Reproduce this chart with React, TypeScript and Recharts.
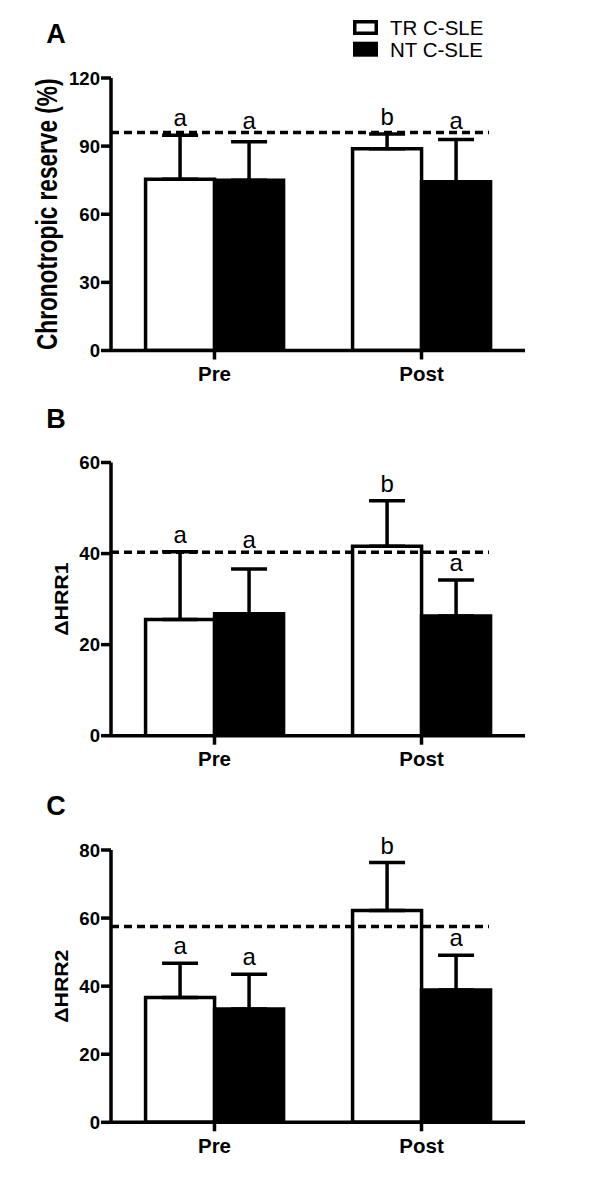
import React from "react";
import { Bar, BarChart, ErrorBar, ReferenceLine, XAxis, YAxis } from "recharts";

const groups = ["Pre", "Post"];
const seriesNames = ["TR C-SLE", "NT C-SLE"];
const trLetters = ["a", "b"];
const ntLetters = ["a", "a"];

// A: chronotropic reserve (%)
const reserveTR = [75.4, 88.8];
const reserveTRsd = [19.4, 6.5];
const reserveNT = [75.0, 74.3];
const reserveNTsd = [16.9, 18.6];
const reserveRef = 96;
const reserveTicks = [0, 30, 60, 90, 120];

// B: delta HRR1
const hrr1TR = [25.5, 41.6];
const hrr1TRsd = [14.9, 10.0];
const hrr1NT = [26.8, 26.3];
const hrr1NTsd = [9.8, 7.9];
const hrr1Ref = 40.3;
const hrr1Ticks = [0, 20, 40, 60];

// C: delta HRR2
const hrr2TR = [36.7, 62.2];
const hrr2TRsd = [10.0, 14.1];
const hrr2NT = [33.3, 38.9];
const hrr2NTsd = [10.2, 10.2];
const hrr2Ref = 57.5;
const hrr2Ticks = [0, 20, 40, 60, 80];

const font = "'Liberation Sans', Arial, Helvetica, sans-serif";
const lw = 3.5;

function buildRows(tr: number[], trSd: number[], nt: number[], ntSd: number[]) {
  return groups.map((g, i) => ({
    group: g,
    tr: tr[i],
    trErr: [0, trSd[i]],
    nt: nt[i],
    ntErr: [0, ntSd[i]],
  }));
}

function letterLabel(letters: string[], sds: number[], ref: number) {
  return (props: any) => {
    const vb = props.viewBox ?? props;
    const x = Number(vb.x ?? props.x);
    const y = Number(vb.y ?? props.y);
    const width = Number(vb.width ?? props.width);
    const height = Number(vb.height ?? props.height);
    const idx = props.index ?? 0;
    const value = Number(Array.isArray(props.value) ? props.value[1] : props.value);
    if (!value || !height) return null;
    const ppu = height / value;
    const errTop = y - sds[idx] * ppu;
    const refY = y + height - ref * ppu;
    let base = errTop - 9;
    // keep the letter clear of the dashed reference line
    if (base > refY - 2 && base - 14 < refY + 2) base = refY - 4;
    return (
      <text x={x + width / 2} y={base} textAnchor="middle" fontSize={24} fontFamily={font} fill="#000">
        {letters[idx]}
      </text>
    );
  };
}

const YTick = (props: any) => {
  const { x, y, payload } = props;
  return (
    <text x={x} y={y} textAnchor="end" dy="0.355em" fontSize={18.6} fontWeight="bold" fontFamily={font} fill="#000">
      {payload.value}
    </text>
  );
};

const XTick = (props: any) => {
  const { x, y, payload } = props;
  return (
    <text x={x} y={y} dy="0.71em" textAnchor="middle" fontSize={20.5} fontWeight="bold" fontFamily={font} fill="#000">
      {payload.value}
    </text>
  );
};

function yTitle(text: string, baseX: number, size: number, sx: number) {
  return (props: any) => {
    const vb = props.viewBox ?? {};
    const cy = (vb.y ?? 0) + (vb.height ?? 0) / 2;
    return (
      <text
        transform={`translate(${baseX},${cy}) rotate(-90) scale(${sx},1)`}
        textAnchor="middle"
        fontSize={size}
        fontWeight="bold"
        fontFamily={font}
        fill="#000"
      >
        {text}
      </text>
    );
  };
}

const dashedShape = (props: any) => (
  <line
    x1={props.x1}
    y1={props.y1}
    x2={props.x2 - 36}
    y2={props.y2}
    stroke="#000"
    strokeWidth={lw}
    strokeDasharray="8 5"
  />
);

type PanelProps = {
  top: number;
  height: number;
  marginTop: number;
  marginBottom: number;
  tr: number[];
  trSd: number[];
  nt: number[];
  ntSd: number[];
  refValue: number;
  ticks: number[];
  title: string;
  titleX: number;
  titleSize: number;
  titleScale: number;
};

function Panel(p: PanelProps) {
  const rows = buildRows(p.tr, p.trSd, p.nt, p.ntSd);
  const max = p.ticks[p.ticks.length - 1];
  return (
    <div style={{ position: "absolute", left: 0, top: p.top, width: 600, height: p.height }}>
      <BarChart
        width={600}
        height={p.height}
        data={rows}
        margin={{ top: p.marginTop, right: 75, bottom: p.marginBottom, left: 51 }}
        barCategoryGap="16.7%"
        barGap={0}
      >
        <XAxis
          dataKey="group"
          height={30}
          axisLine={{ stroke: "#000", strokeWidth: lw }}
          tickLine={{ stroke: "#000", strokeWidth: lw }}
          tickSize={9}
          tickMargin={7}
          tick={<XTick />}
        />
        <YAxis
          width={60}
          domain={[0, max]}
          ticks={p.ticks}
          interval={0}
          allowDataOverflow
          axisLine={{ stroke: "#000", strokeWidth: lw }}
          tickLine={{ stroke: "#000", strokeWidth: lw }}
          tickSize={10}
          tickMargin={1}
          tick={<YTick />}
          label={{ content: yTitle(p.title, p.titleX, p.titleSize, p.titleScale) }}
        />
        <Bar
          dataKey="tr"
          name={seriesNames[0]}
          fill="#fff"
          stroke="#000"
          strokeWidth={lw}
          isAnimationActive={false}
          label={letterLabel(trLetters, p.trSd, p.refValue)}
        >
          <ErrorBar dataKey="trErr" width={18} stroke="#000" strokeWidth={lw} direction="y" />
        </Bar>
        <Bar
          dataKey="nt"
          name={seriesNames[1]}
          fill="#000"
          stroke="#000"
          strokeWidth={lw}
          isAnimationActive={false}
          label={letterLabel(ntLetters, p.ntSd, p.refValue)}
        >
          <ErrorBar dataKey="ntErr" width={18} stroke="#000" strokeWidth={lw} direction="y" />
        </Bar>
        <ReferenceLine y={p.refValue} shape={dashedShape} ifOverflow="extendDomain" />
      </BarChart>
    </div>
  );
}

export default function App() {
  return (
    <div style={{ position: "absolute", left: 0, top: 0, width: 600, height: 1192, background: "#fff", fontFamily: font }}>
      <Panel
        top={0}
        height={400}
        marginTop={78}
        marginBottom={19.5}
        tr={reserveTR}
        trSd={reserveTRsd}
        nt={reserveNT}
        ntSd={reserveNTsd}
        refValue={reserveRef}
        ticks={reserveTicks}
        title="Chronotropic reserve (%)"
        titleX={57}
        titleSize={29}
        titleScale={0.78}
      />
      <Panel
        top={390}
        height={400}
        marginTop={72.5}
        marginBottom={24.3}
        tr={hrr1TR}
        trSd={hrr1TRsd}
        nt={hrr1NT}
        ntSd={hrr1NTsd}
        refValue={hrr1Ref}
        ticks={hrr1Ticks}
        title="ΔHRR1"
        titleX={68}
        titleSize={19}
        titleScale={1.12}
      />
      <Panel
        top={780}
        height={412}
        marginTop={70}
        marginBottom={39.7}
        tr={hrr2TR}
        trSd={hrr2TRsd}
        nt={hrr2NT}
        ntSd={hrr2NTsd}
        refValue={hrr2Ref}
        ticks={hrr2Ticks}
        title="ΔHRR2"
        titleX={68}
        titleSize={19}
        titleScale={1.12}
      />
      <svg
        width={600}
        height={1192}
        style={{ position: "absolute", left: 0, top: 0, pointerEvents: "none" }}
      >
        <text x={56} y={43.3} textAnchor="middle" fontSize={27} fontWeight="bold" fontFamily={font}>A</text>
        <text x={56} y={428.3} textAnchor="middle" fontSize={27} fontWeight="bold" fontFamily={font}>B</text>
        <text x={56} y={815} textAnchor="middle" fontSize={27} fontWeight="bold" fontFamily={font}>C</text>
        <rect x={354.75} y={21.75} width={21.5} height={11.5} fill="#fff" stroke="#000" strokeWidth={3.5} />
        <text x={390} y={35} fontSize={20.5} fontFamily={font}>{seriesNames[0]}</text>
        <rect x={353} y={41.7} width={25} height={15} fill="#000" />
        <text x={390} y={56.7} fontSize={20.5} fontFamily={font}>{seriesNames[1]}</text>
      </svg>
    </div>
  );
}
